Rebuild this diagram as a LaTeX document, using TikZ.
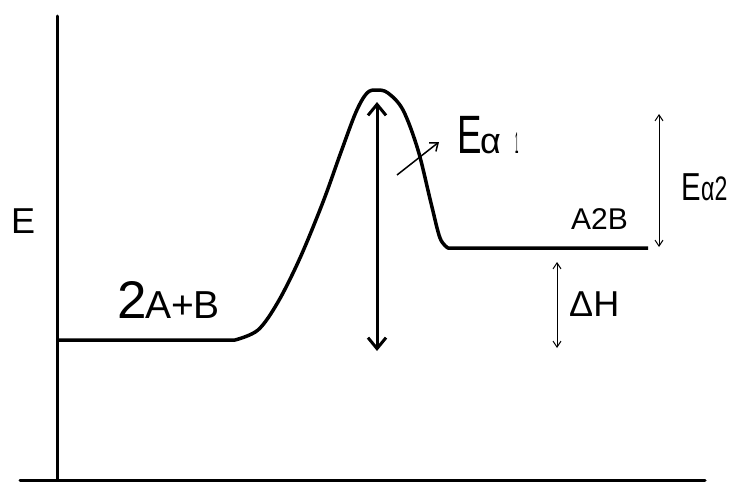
\documentclass[tikz,border=0pt]{standalone}
\usepackage{fontspec}
\usepackage{graphicx}
\setmainfont{Liberation Sans}
\usetikzlibrary{arrows.meta}
\begin{document}
\begin{tikzpicture}[x=1pt,y=-1pt,
  axisline/.style={line width=3pt,line cap=round},
  curveline/.style={line width=3.5pt,line join=round},
  bigarrow/.style={line width=3pt,{Straight Barb[length=11pt,width=18pt,line width=3pt]}-{Straight Barb[length=11pt,width=18pt,line width=3pt]}},
  thinarrow/.style={line width=1pt,{Straight Barb[length=6pt,width=8pt]}-{Straight Barb[length=6pt,width=8pt]}},
  smallarrow/.style={line width=1.5pt,-{Straight Barb[length=7pt,width=11pt,line width=1.5pt]}},
  lbl/.style={inner sep=0pt,anchor=base west}]
\useasboundingbox (0,0) rectangle (731,482);
% axes
\coordinate (ytop) at (57,16);
\coordinate (origin) at (57,480);
\coordinate (xleft) at (20,480);
\coordinate (xright) at (705,480);
\draw[axisline] (ytop) -- (origin);
\draw[axisline] (xleft) -- (xright);
% energy profile
\coordinate (r0) at (57,340);
\coordinate (r1) at (235,340);
\coordinate (p0) at (448,248);
\coordinate (p1) at (648,248);
\draw[curveline] (r0) -- (r1)
  plot[smooth,tension=0.55] coordinates {(235,340) (258,330) (278,302) (300,258) (323,202) (341,152) (356,112) (367,93) (377,90) (388,93) (403,110) (418,150) (431,203) (440,238) (448,248)}
  -- (p1);
% big double arrow
\coordinate (ba1) at (377,102);
\coordinate (ba2) at (377,351);
\draw[bigarrow] (ba1) -- (ba2);
% small arrow to Ea1
\coordinate (sa1) at (397,175);
\coordinate (sa2) at (439,142);
\draw[smallarrow] (sa1) -- (sa2);
% Ea2 arrow
\coordinate (e2a) at (659,114);
\coordinate (e2b) at (659,247);
\draw[thinarrow] (e2a) -- (e2b);
% Delta H arrow
\coordinate (dha) at (557,262);
\coordinate (dhb) at (557,348);
\draw[thinarrow] (dha) -- (dhb);
% labels
\node[lbl,font=\fontsize{36}{36}\selectfont] (lE) at (11,233) {E};
\node[lbl,font=\fontsize{53}{53}\selectfont] (l2) at (117,318) {2};
\node[lbl,font=\fontsize{39}{39}\selectfont] (lAB) at (145,318) {A+B};
\node[lbl,font=\fontsize{54}{54}\selectfont] (lEa1) at (457,153) {\scalebox{0.68}[1]{E}};
\node[lbl,font=\fontsize{36}{36}\selectfont] (la1) at (480,153) {α};
\node[lbl,font=\fontsize{30}{30}\selectfont] (ls1) at (515,153) {\scalebox{0.2}[1]{1}};
\node[lbl,font=\fontsize{30}{30}\selectfont] (lA2B) at (571,229) {A2B};
\node[lbl,font=\fontsize{39}{39}\selectfont] (lEa2) at (681,200) {\scalebox{0.75}[1]{E}};
\node[lbl,font=\fontsize{34}{34}\selectfont] (la2) at (701,200) {\scalebox{0.68}[1]{α2}};
\node[lbl,font=\fontsize{36}{36}\selectfont] (lDH) at (569,316) {ΔH};
\end{tikzpicture}
\end{document}
